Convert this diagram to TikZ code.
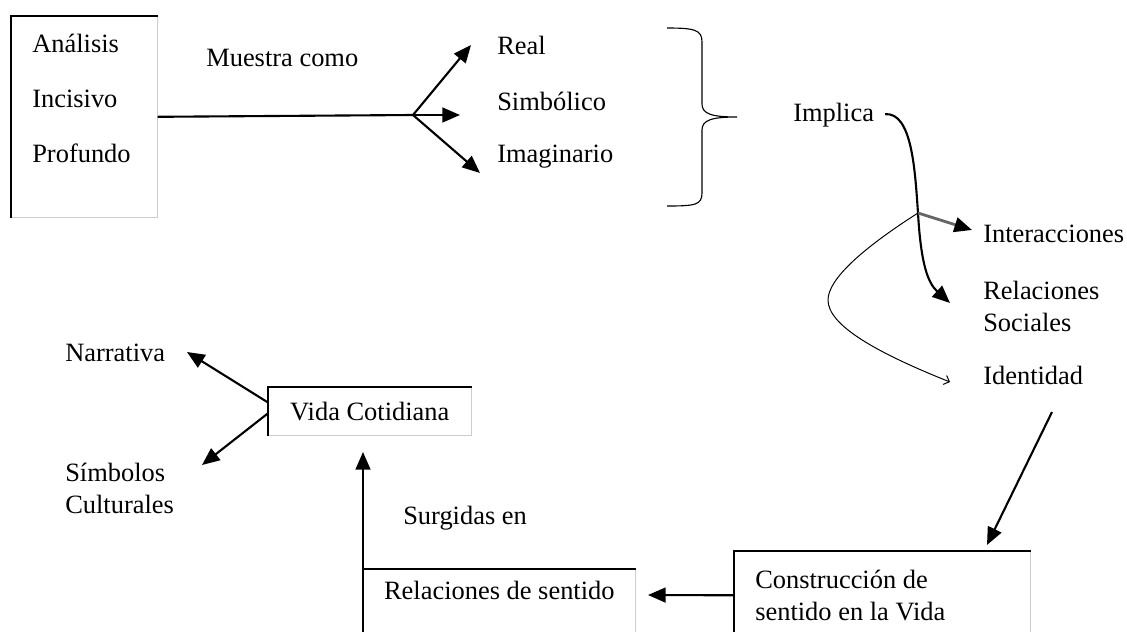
\documentclass[tikz,border=0pt]{standalone}
\usepackage{fontspec}
\setmainfont{Liberation Serif}
\usetikzlibrary{arrows.meta,positioning}
\newcommand\shadowedges[1]{%
  \draw[gray!40,line width=.7pt] (#1.north east) -- (#1.south east) -- (#1.south west);%
  \draw[line width=1.4pt] (#1.south west) -- (#1.north west) -- (#1.north east);}

\begin{document}
\begin{tikzpicture}[x=.025cm,y=-.025cm,font=\fontsize{18.8}{22.7}\selectfont]%
        \useasboundingbox (0,0) rectangle (1127,632);%
        \tikzstyle{tip}=[-{Triangle[length=4.4mm,width=3.7mm]},line width=1.5pt]%
        \begin{scope}[inner sep=0pt]
        \tikzstyle{every node}=[anchor=west] %%
        \node (muestra) at (206,58) {Muestra como}; %%
        \node (real) at (497,45) {Real}; %%
        \node (simb) at (497,101) {Simbólico}; %%
        \node (imag) at (497,157) {Imaginario}; %%
        \node (implica) at (793,115) {Implica}; %%
        \node (inter) at (983,234) {Interacciones}; %%
        \node[align=left] (relsoc) at (983,306) {Relaciones\\Sociales}; %%
        \node (ident) at (983,375) {Identidad}; %%
        \node (narr) at (65,353) {Narrativa}; %%
        \node[align=left] (simbcult) at (65,488) {Símbolos\\Culturales}; %%
        \node (surgidas) at (403,518) {Surgidas en}; %%
        \end{scope}
        \begin{scope}[inner sep=0pt]
        \tikzstyle{every node}=[anchor=north west] %%
        \node[minimum width=3.65cm,minimum height=5.025cm] (analisis) at (11,16) {}; %%
        \node[align=left,font=\fontsize{18.8}{39}\selectfont] (cualidad) at (32,34) {Análisis\\Incisivo\\Profundo}; %%
        \node[minimum width=5.075cm,minimum height=1.2cm] (vida) at (268,387) {Vida Cotidiana}; %%
        \node[minimum width=6.8cm,text height=.75cm,text depth=1.3cm] (relsent) at (363,569) {Relaciones de sentido}; %%
        \node[align=flush left,inner xsep=.525cm,text width=6.35cm,minimum height=2.2cm] (constr) at (734,551) {Construcción de\\sentido en la Vida}; %%
        \end{scope}
        \shadowedges{analisis}
        \shadowedges{vida}
        \shadowedges{relsent}
        \shadowedges{constr}
        % arrow ends
        \coordinate (fork) at (413,115); %%
        \coordinate (treal) at (471,45); %%
        \coordinate (tsimb) at (460,115); %%
        \coordinate (timag) at (480,173); %%
        \coordinate (cruce) at (918,213); %%
        \coordinate (tinter) at (972,230); %%
        \coordinate (trelsoc) at (950,303); %%
        \coordinate (tident) at (950,382); %%
        \coordinate (sident) at (1052,412); %%
        \coordinate (tconstr) at (987,545); %%
        \coordinate (trelsent) at (648,595); %%
        \coordinate (tvida) at (363,452); %%
        \coordinate (tnarr) at (187,352); %%
        \coordinate (tsimbc) at (202,465); %%
        \draw[line width=1.5pt] (analisis.east) -- (fork); %%
        \draw[tip] (fork) -- (treal); %%
        \draw[tip] (fork) -- (tsimb); %%
        \draw[tip] (fork) -- (timag); %%
        % brace
        \draw[line width=.8pt] (667,28) .. controls (695,28) and (702,30) .. (702,42) -- (702,104)
              .. controls (702,114) and (712,117) .. (737,117)
              .. controls (712,117) and (702,120) .. (702,130) -- (702,193)
              .. controls (702,205) and (695,206) .. (667,206); %%
        \draw[tip,shorten <=.27cm] (implica.east) .. controls (912,112) and (915,170) .. (cruce)
              .. controls (921,265) and (928,283) .. (trelsoc); %%
        \draw[-{Triangle[length=4.4mm,width=3.7mm,color=black]},black!60,line width=2pt] (cruce) -- (tinter); %%
        \draw[line width=.7pt,-{Straight Barb[length=1.2mm]}] (cruce) .. controls (860,250) and (828,280) .. (828,300)
              .. controls (828,325) and (875,352) .. (tident); %%
        \draw[tip] (sident) -- (tconstr); %%
        \draw[tip] (constr.west) -- (trelsent); %%
        \draw[tip] (relsent.north west) -- (tvida); %%
        \draw[tip] ([yshift=.22cm]vida.west) -- (tnarr); %%
        \draw[tip] ([yshift=-.05cm]vida.west) -- (tsimbc); %%
\end{tikzpicture}
\end{document}
